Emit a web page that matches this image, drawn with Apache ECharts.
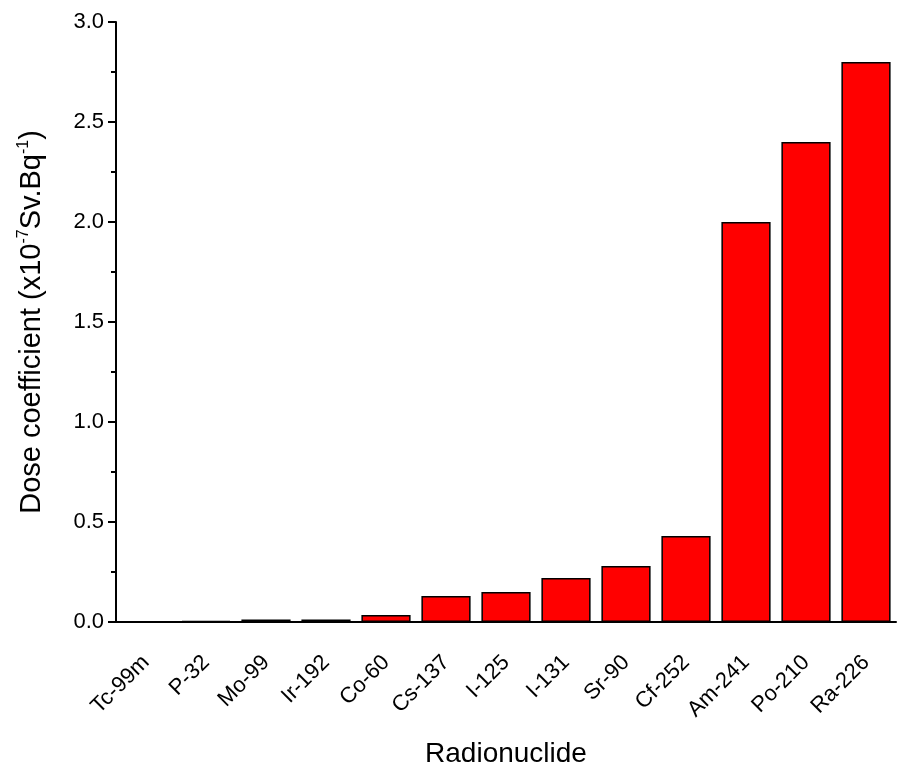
<!DOCTYPE html>
<html>
<head>
<meta charset="utf-8">
<script src="https://cdn.jsdelivr.net/npm/echarts@6/dist/echarts.min.js"></script>
<style>
    html, body { margin: 0; padding: 0; background: #fff; }
    #chart { width: 904px; height: 763px; }
</style>
</head>
<body>
<div id="chart"></div>
<script>
// data
var nuclides = ['Tc-99m', 'P-32', 'Mo-99', 'Ir-192', 'Co-60', 'Cs-137', 'I-125', 'I-131', 'Sr-90', 'Cf-252', 'Am-241', 'Po-210', 'Ra-226'];
var doseCoefficients = [0.001, 0.005, 0.013, 0.013, 0.035, 0.13, 0.15, 0.22, 0.28, 0.43, 2.0, 2.4, 2.8];

var font = 'Liberation Sans, Arial, sans-serif';

// 基于准备好的dom，初始化echarts实例
var myChart = echarts.init(document.getElementById('chart'));

var option = {
    animation: false,
    backgroundColor: '#fff',
    grid: {
        left: 116, right: 8, top: 22, bottom: 141,
        outerBoundsMode: 'none'
    },
    xAxis: [{
        type: 'category',
        data: nuclides,
        name: 'Radionuclide',
        nameLocation: 'middle',
        nameGap: 118,
        nameTextStyle: {fontFamily: font, fontSize: 28, color: '#000'},
        axisLine: {lineStyle: {color: '#000', width: 2}},
        axisTick: {alignWithLabel: true, length: 12, lineStyle: {color: '#000', width: 2}},
        axisLabel: {rotate: 45, margin: 37, fontFamily: font, fontSize: 22, color: '#000'}
    }, {
        // short ticks on category boundaries
        type: 'category',
        data: nuclides,
        position: 'bottom',
        axisLine: {show: false},
        axisTick: {length: 5, lineStyle: {color: '#000', width: 2}},
        axisLabel: {show: false}
    }],
    yAxis: [{
        type: 'value',
        min: 0,
        max: 3,
        interval: 0.5,
        name: '{a|Dose coefficient (x10}{s|-7}{a|Sv.Bq}{s|-1}{a|)}',
        nameLocation: 'middle',
        nameRotate: 90,
        nameGap: 68,
        nameTextStyle: {
            color: '#000',
            rich: {
                a: {fontFamily: font, fontSize: 29, color: '#000', lineHeight: 32},
                s: {fontFamily: font, fontSize: 16, color: '#000', verticalAlign: 'top', lineHeight: 32}
            }
        },
        splitLine: {show: false},
        axisLine: {show: true, lineStyle: {color: '#000', width: 2}},
        axisTick: {show: true, length: 8, lineStyle: {color: '#000', width: 2}},
        minorTick: {show: true, splitNumber: 2, length: 5, lineStyle: {color: '#000', width: 2}},
        axisLabel: {
            margin: 12, fontFamily: font, fontSize: 22, color: '#000',
            formatter: function (v) { return v.toFixed(1); }
        }
    }],
    series: [{
        type: 'bar',
        data: doseCoefficients,
        barCategoryGap: '18%',
        itemStyle: {color: '#ff0000', borderColor: '#000', borderWidth: 1.5}
    }]
};

myChart.setOption(option);
</script>
</body>
</html>
